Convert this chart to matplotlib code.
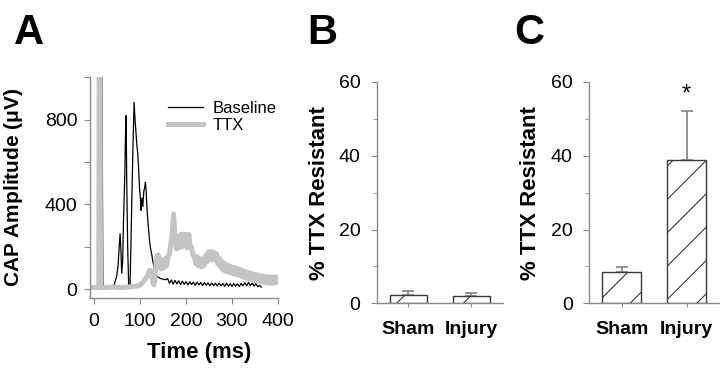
import matplotlib
matplotlib.use("Agg")
import matplotlib.pyplot as plt

plt.rcParams['font.family'] = ['Liberation Sans', 'DejaVu Sans']
plt.rcParams['hatch.linewidth'] = 0.8

# Panel A - CAP traces (time in ms, amplitude in uV)
base_t = [-5, 10, 12, 17, 19, 30, 43, 46, 49, 52, 54, 56.5, 58, 60, 62, 64, 66, 67, 68, 69.6,
          71, 73, 75, 77, 78, 80, 82, 84, 86, 87, 89, 91, 93, 95, 97, 99, 101, 102, 104, 106,
          108, 110, 111.6, 113, 115, 117, 119, 121, 123, 125, 128, 131, 134, 137, 145, 155,
          160, 164, 168, 172, 176, 180, 184, 188, 192, 196, 200, 204, 208, 212, 216, 220,
          224, 228, 232, 236, 240, 244, 248, 252, 256, 260, 264, 268, 272, 276, 280, 284,
          288, 292, 296, 300, 304, 308, 312, 316, 320, 324, 328, 332, 336, 340, 344, 348,
          352, 356, 360, 364]
base_v = [5, 5, 1100, 1100, 8, 8, 10, 40, 60, 110, 180, 262, 200, 75, 130, 330, 480, 560, 700, 819,
          500, 200, 30, 10, 10, 200, 420, 620, 800, 882, 800, 740, 680, 640, 560, 470, 420, 372, 430, 390,
          460, 480, 505, 470, 380, 320, 270, 220, 190, 168, 130, 95, 80, 60, 50, 45,
          50, 28, 44, 24, 42, 25, 40, 22, 38, 23, 36, 20, 35, 22, 34, 18,
          33, 20, 32, 17, 31, 19, 30, 16, 29, 17, 28, 15, 29, 16, 27, 14,
          28, 15, 26, 13, 27, 15, 25, 13, 28, 16, 31, 17, 32, 18, 29, 15,
          26, 12, 18, 10]

ttx_t = [-3, 10, 11, 13, 14, 20, 40, 60, 80, 95, 100, 105, 110, 115, 118, 121, 124, 126, 128, 130,
         132, 135, 138,
         140, 143, 146, 149, 152, 155, 158, 161, 164, 167, 170, 173, 176, 179, 182, 185, 188, 191,
         194, 197, 200, 203, 206, 209, 212, 215, 218, 221, 224, 227, 230, 233, 236, 239, 242, 245,
         248, 251, 254, 257, 260, 263, 266, 269, 272, 275, 278, 281, 284, 287, 290, 293, 296, 299,
         302, 305, 308, 311, 314, 317, 320, 323, 326, 329, 332, 335, 338, 341, 344, 347, 350, 353,
         356, 359, 362, 365, 368, 371, 374, 377, 380, 383, 386, 389, 392, 395, 398]
ttx_v = [8, 8, 1100, 1100, 8, 8, 10, 8, 12, 15, 20, 30, 45, 60, 74, 90, 85, 60, 30, 20,
         40, 130, 162,
         160, 110, 95, 140, 100, 145, 110, 160, 165, 215, 265, 355, 250, 190, 250, 195, 258, 200,
         260, 205, 258, 195, 260, 200, 200, 160, 158, 120, 155, 110, 145, 105, 140, 110, 158, 128,
         175, 138, 178, 140, 175, 138, 168, 120, 148, 104, 132, 90, 122, 84, 115, 80, 108, 76,
         104, 72, 100, 68, 96, 64, 92, 58, 86, 54, 82, 50, 78, 47, 74, 42, 70, 40,
         68, 38, 64, 34, 62, 32, 60, 30, 58, 28, 58, 28, 56, 30, 56]

# Panels B and C - % TTX resistant
groups = ['Sham', 'Injury']
b_mean = [2.2, 2.0]
b_err = [1.1, 0.7]
c_mean = [8.4, 38.9]
c_err = [1.5, 13.1]

GRAY = '#8a8a8a'

fig = plt.figure(figsize=(7.2, 3.75), dpi=100)

# ---------------- Panel A ----------------
axA = fig.add_axes([0.125, 0.205, 0.261, 0.589])
axA.plot(ttx_t, ttx_v, color='#c4c4c4', lw=3.6, label='TTX', zorder=2)
axA.plot(base_t, base_v, color='black', lw=0.9, label='Baseline', zorder=1)
axA.set_xlim(-9, 400)
axA.set_ylim(-42, 1000)
axA.set_xticks([0, 100, 200, 300, 400])
axA.set_yticks([0, 200, 400, 600, 800, 1000])
axA.set_yticklabels(['0', '', '400', '', '800', ''])
axA.set_xlabel('Time (ms)', fontsize=16, fontweight='bold')
axA.xaxis.set_label_coords(0.58, -0.2)
axA.set_ylabel('CAP Amplitude ($\\mathregular{\\mu}$V)', fontsize=15, fontweight='bold')
axA.yaxis.set_label_coords(-0.345, 0.5)
h, l = axA.get_legend_handles_labels()
axA.legend(h[::-1], l[::-1], loc='upper left', bbox_to_anchor=(0.37, 0.93), frameon=False,
           fontsize=12, handlelength=2.1, handletextpad=0.6, labelspacing=0.1, borderpad=0)


def bar_panel(ax, means, errs):
    x = range(len(groups))
    ax.bar(x, means, width=0.6, color='white', edgecolor='#3a3a3a', linewidth=1.0,
           hatch='/', zorder=2)
    ax.errorbar(x, means, yerr=[[0] * len(errs), errs], fmt='none', ecolor=GRAY,
                elinewidth=1.3, capsize=4, capthick=1.3, zorder=1)
    ax.set_xlim(-0.5, 1.5)
    ax.set_ylim(0, 60)
    ax.set_yticks([0, 20, 40, 60])
    ax.set_yticks([10, 30, 50], minor=True)
    ax.set_xticks(list(x))
    ax.set_xticklabels(groups, fontsize=14, fontweight='bold')
    ax.set_ylabel('% TTX Resistant', fontsize=16, fontweight='bold')


# ---------------- Panel B ----------------
axB = fig.add_axes([0.5236, 0.191, 0.175, 0.591])
bar_panel(axB, b_mean, b_err)
axB.yaxis.set_label_coords(-0.37, 0.5)

# ---------------- Panel C ----------------
axC = fig.add_axes([0.8185, 0.191, 0.18, 0.591])
bar_panel(axC, c_mean, c_err)
axC.yaxis.set_label_coords(-0.373, 0.5)
axC.text(1, 56.5, '*', ha='center', va='center', fontsize=17)

for ax in (axA, axB, axC):
    for s in ('top', 'right'):
        ax.spines[s].set_visible(False)
    for s in ('left', 'bottom'):
        ax.spines[s].set_color(GRAY)
        ax.spines[s].set_linewidth(1.0)
    ax.tick_params(which='both', color=GRAY, labelsize=14)
    ax.tick_params(axis='y', which='minor', length=3)
axA.tick_params(axis='y', which='major', length=4, pad=5)
axA.tick_params(axis='x', length=4, pad=7)
for ax in (axB, axC):
    ax.tick_params(axis='y', which='major', length=4, pad=8)
    ax.tick_params(axis='x', labelsize=14, length=3, pad=10)

fig.text(0.019, 0.965, 'A', fontsize=30, fontweight='bold', va='top', ha='left')
fig.text(0.427, 0.965, 'B', fontsize=30, fontweight='bold', va='top', ha='left')
fig.text(0.714, 0.965, 'C', fontsize=30, fontweight='bold', va='top', ha='left')

fig.savefig('out.png', dpi=100)
